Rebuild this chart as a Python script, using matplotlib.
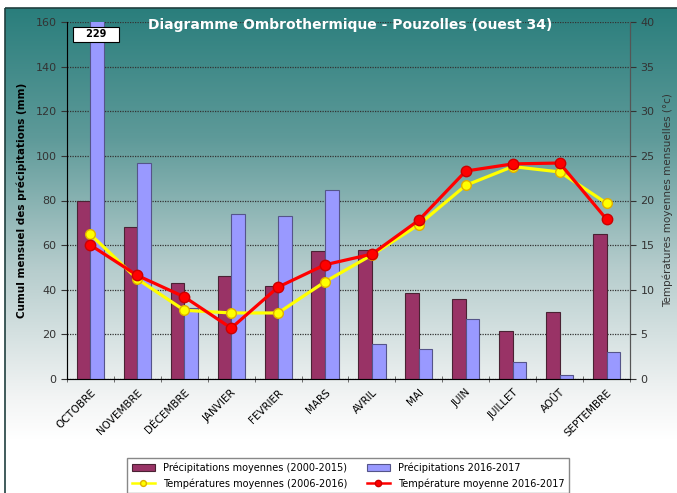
import numpy as np
import matplotlib
matplotlib.use("Agg")
from matplotlib import pyplot as plt
from matplotlib.colors import LinearSegmentedColormap
from matplotlib.patches import Rectangle

months = ["OCTOBRE", "NOVEMBRE", "DÉCEMBRE", "JANVIER", "FEVRIER", "MARS",
          "AVRIL", "MAI", "JUIN", "JUILLET", "AOÛT", "SEPTEMBRE"]
precip_avg = [80, 68, 43, 46, 41.5, 57.5, 58, 38.5, 35.8, 21.5, 30, 65]
precip_1617 = [229, 97, 32, 74, 73, 84.5, 15.5, 13.5, 27, 7.5, 2, 12]
temp_avg = [16.2, 11.2, 7.7, 7.4, 7.4, 10.9, 13.9, 17.3, 21.7, 23.8, 23.2, 19.7]
temp_1617 = [15.0, 11.6, 9.2, 5.7, 10.3, 12.8, 14.0, 17.8, 23.3, 24.1, 24.2, 17.9]

W, H = 677, 493
fig = plt.figure(figsize=(W / 100, H / 100), dpi=100)

# gradient background (teal at top, white at bottom)
bg = fig.add_axes([0, 0, 1, 1], zorder=-10)
bg.set_xlim(0, W)
bg.set_ylim(H, 0)
bg.axis("off")
cmap = LinearSegmentedColormap.from_list(
    "bg", [(0, "#2a7e7c"), (0.3, "#5e9a99"), (0.6, "#b5cccc"), (0.9, "#f2f4f4"), (1, "#ffffff")])
grad = np.linspace(0, 1, 256).reshape(-1, 1)
bg.imshow(grad, cmap=cmap, extent=[5, W, 440, 8], aspect="auto")
bg.add_patch(Rectangle((5, 440), W - 5, H - 440, color="white", zorder=0))
bg.add_patch(Rectangle((5, 8), W + 10, H, fill=False, edgecolor="#20403f", lw=1.2, zorder=2))

ax = fig.add_axes([67 / W, 1 - 379 / H, (630 - 67) / W, (379 - 22) / H])
ax.patch.set_alpha(0)
x = np.arange(len(months))
bw = 0.29
ax.bar(x - bw / 2, precip_avg, bw, color="#993366", edgecolor="#4a2233", lw=0.8,
       label="Précipitations moyennes (2000-2015)", zorder=3)
ax.bar(x + bw / 2, precip_1617, bw, color="#9999ff", edgecolor="#55558a", lw=0.8,
       label="Précipitations 2016-2017", zorder=3)
ax.set_ylim(0, 160)
ax.set_xlim(-0.5, len(months) - 0.5)
ax.set_yticks(range(0, 161, 20))
ax.yaxis.grid(True, linestyle=(0, (1, 1)), color="#333333", lw=0.9, zorder=1)
ax.set_xticks(x)
ax.set_xticklabels(months, rotation=45, ha="right", rotation_mode="anchor", fontsize=7.5)
ax.set_xticks(np.arange(-0.5, len(months), 1), minor=True)
ax.tick_params(axis="x", which="major", length=0, pad=6)
ax.tick_params(axis="x", which="minor", length=4, direction="inout", color="#555555")
ax.tick_params(axis="y", labelsize=8, labelcolor="#333333", length=4, color="#333333")
ax.spines["top"].set_visible(False)
for s in ["left", "right", "bottom"]:
    ax.spines[s].set_color("#555555")
ax.set_ylabel("Cumul mensuel des précipitations (mm)", fontsize=7.5, fontweight="bold")
ax.yaxis.set_label_coords(-0.071, 0.5)
# value of the clipped bar
ax.annotate("   229   ", xy=(0.12, 154.5), ha="center", va="center", fontsize=7, fontweight="bold",
            bbox=dict(boxstyle="square,pad=0.25", fc="white", ec="black", lw=0.8),
            zorder=6)

ax2 = ax.twinx()
ax2.plot(x, temp_avg, color="#ffff00", lw=2.3, marker="o", ms=7, mfc="#ffff00",
         mec="#e0b000", label="Températures moyennes (2006-2016)", zorder=4)
ax2.plot(x, temp_1617, color="#ff0000", lw=2.3, marker="o", ms=7.5, mfc="#ff0000",
         mec="#cc0000", label="Température moyenne 2016-2017", zorder=5)
ax2.set_ylim(0, 40)
ax2.set_yticks(range(0, 41, 5))
ax2.tick_params(axis="y", labelsize=8, labelcolor="#333333", length=4, color="#333333")
ax2.spines["top"].set_visible(False)
ax2.spines["right"].set_color("#555555")
ax2.set_ylabel("Températures moyennes mensuelles (°c)", fontsize=7.5, color="#333333",
               rotation=90)
ax2.yaxis.set_label_coords(1.057, 0.5)

fig.text(350 / W, 1 - 25 / H, "Diagramme Ombrothermique - Pouzolles (ouest 34)",
         color="white", fontsize=10, fontweight="bold", ha="center", va="center")

h1, l1 = ax.get_legend_handles_labels()
h2, l2 = ax2.get_legend_handles_labels()
handles = [h1[0], h2[0], h1[1], h2[1]]
labels = [l1[0], l2[0], l1[1], l2[1]]
leg = fig.legend(handles, labels, ncol=2, loc="upper left", bbox_to_anchor=(122 / W, 1 - 453 / H),
                 fontsize=7, frameon=True, fancybox=False, edgecolor="#888888", framealpha=1,
                 handlelength=2.4, columnspacing=2.0, borderpad=0.5, labelspacing=0.5,
                 markerscale=0.6)
for line in leg.get_lines():
    line.set_linewidth(1.8)

fig.savefig("out.png", dpi=100)
